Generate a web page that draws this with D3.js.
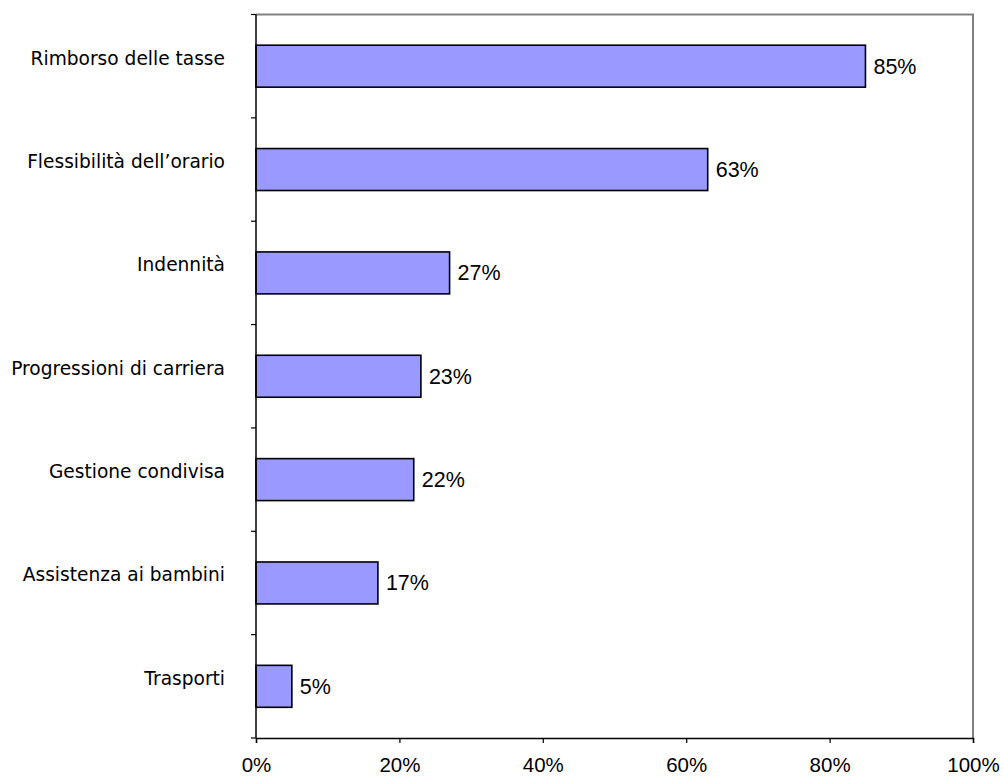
<!DOCTYPE html>
<html>
<head>
<meta charset="utf-8">
<script src="https://cdn.jsdelivr.net/npm/d3@7"></script>
<style>
  html, body { margin: 0; padding: 0; background: #fff; }
  svg { display: block; }
</style>
</head>
<body>
<svg id="chart" width="1004" height="776"></svg>
<script>
// Categories (top to bottom) and their percentage values
const categories = [
  "Rimborso delle tasse",
  "Flessibilità dell’orario",
  "Indennità",
  "Progressioni di carriera",
  "Gestione condivisa",
  "Assistenza ai bambini",
  "Trasporti"
];
const values = [85, 63, 27, 23, 22, 17, 5];
const tickValues = [0, 20, 40, 60, 80, 100];

const svg = d3.select("#chart");
const margin = { left: 256, right: 31, top: 14.5, bottom: 38 };
const W = 1004, H = 776;
const x0 = margin.left, x1 = W - margin.right;
const y0 = margin.top, y1 = H - margin.bottom;

const x = d3.scaleLinear().domain([0, 100]).range([x0, x1]);
const y = d3.scaleBand().domain(categories).range([y0, y1]).paddingInner(0.594).paddingOuter(0.297);
const yBand = d3.scaleBand().domain(categories).range([y0, y1]);

// Plot frame: gray top/right edges
svg.append("path")
  .attr("d", `M${x0},${y0}H${x1}V${y1}`)
  .attr("fill", "none").attr("stroke", "#808080").attr("stroke-width", 2);

// Bars
svg.append("g").selectAll("rect").data(categories).join("rect")
  .attr("x", x(0))
  .attr("y", d => y(d))
  .attr("width", (d, i) => x(values[i]) - x(0))
  .attr("height", y.bandwidth())
  .attr("fill", "#9999FF")
  .attr("stroke", "#000").attr("stroke-width", 1.6);

// Value labels
svg.append("g").selectAll("text").data(categories).join("text")
  .attr("x", (d, i) => x(values[i]) + 8)
  .attr("y", d => y(d) + y.bandwidth() / 2 + 7.5)
  .attr("font-family", "Liberation Sans, Arial, sans-serif")
  .attr("font-size", 21.5)
  .attr("fill", "#000")
  .text((d, i) => values[i] + "%");

// Left axis with ticks at band boundaries
const boundaries = categories.map(c => yBand(c)).concat([y1]);
const left = svg.append("g");
left.append("line").attr("x1", x0).attr("x2", x0).attr("y1", y0).attr("y2", y1)
  .attr("stroke", "#000").attr("stroke-width", 1.5);
left.selectAll("line.t").data(boundaries).join("line").attr("class", "t")
  .attr("x1", x0 - 5).attr("x2", x0).attr("y1", d => d).attr("y2", d => d)
  .attr("stroke", "#000").attr("stroke-width", 1.2);

// Category labels
svg.append("g").selectAll("text").data(categories).join("text")
  .attr("x", 225)
  .attr("y", d => yBand(d) + yBand.bandwidth() / 2 - 1.5)
  .attr("text-anchor", "end")
  .attr("font-family", "DejaVu Sans, Tahoma, sans-serif")
  .attr("font-size", 18.6)
  .attr("fill", "#000")
  .text(d => d);

// Bottom axis
const xAxis = d3.axisBottom(x).tickValues(tickValues).tickSize(5).tickFormat(d => d + "%");
const gx = svg.append("g").attr("transform", `translate(0,${y1})`).call(xAxis);
gx.select(".domain").attr("stroke", "#000").attr("stroke-width", 1.5);
gx.selectAll(".tick line").attr("stroke", "#000").attr("stroke-width", 1.2);
gx.selectAll(".tick text")
  .attr("font-family", "Liberation Sans, Arial, sans-serif")
  .attr("font-size", 20.5)
  .attr("fill", "#000")
  .attr("y", 19)
  .attr("dy", "0.71em");
</script>
</body>
</html>
